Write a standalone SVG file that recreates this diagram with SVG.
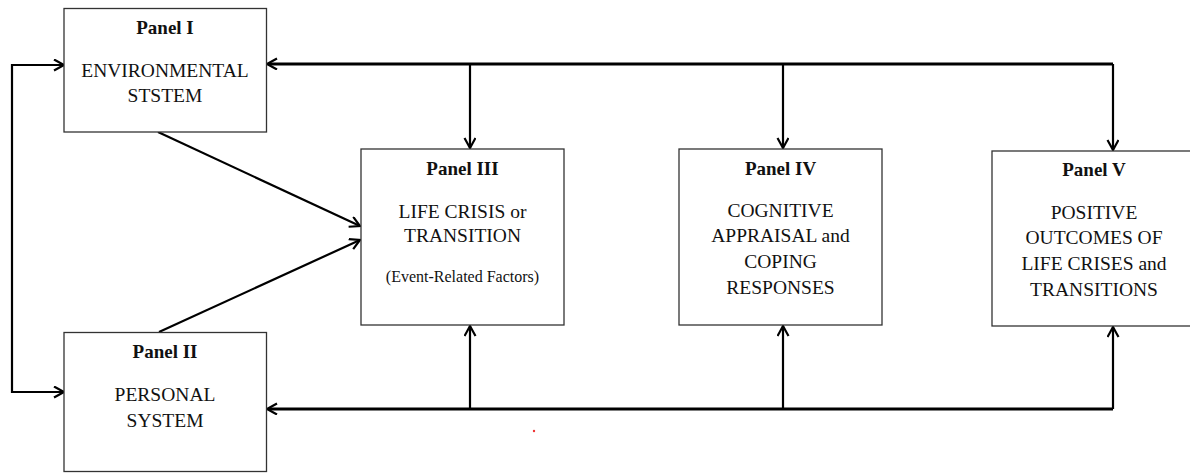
<svg xmlns="http://www.w3.org/2000/svg" width="1190" height="473" viewBox="0 0 1190 473">
<style>
.box{fill:#fff;stroke:#333;stroke-width:1.3}
.t{font-family:"Liberation Serif","Times New Roman",serif;font-size:19.5px;fill:#111;text-anchor:middle}
.b{font-weight:bold;font-size:19px}
.s{font-size:16px}
.c{fill:none;stroke:#000;stroke-width:2.2;marker-end:url(#ah)}
.h{fill:none;stroke:#000;stroke-width:3}
</style>
<defs>
<marker id="ah" markerUnits="userSpaceOnUse" markerWidth="14" markerHeight="14" refX="11" refY="6" orient="auto-start-reverse">
<path d="M1,0.5 L11,6 L1,11.5" fill="none" stroke="#000" stroke-width="2.2"/>
</marker>
</defs>
<rect width="1190" height="473" fill="#fff"/>
<g id="connectors">
<path class="c" d="M64,65 H12 V392 H64" style="marker-start:url(#ah)"/>
<path class="h" d="M1113,64 H270"/>
<path class="c" d="M300,64 H267"/>
<path class="c" d="M470,64 V148"/>
<path class="c" d="M783,64 V148"/>
<path class="c" d="M1113,64 V150"/>
<path class="h" d="M1113,409 H270"/>
<path class="c" d="M300,409 H267"/>
<path class="c" d="M470,409 V326"/>
<path class="c" d="M783,409 V326"/>
<path class="c" d="M1113,409 V327"/>
<path class="c" d="M158,132 L360,226"/>
<path class="c" d="M159,332 L360,240"/>
</g>
<g id="panel1">
<rect class="box" x="64" y="8.5" width="202.5" height="123.5"/>
<text class="t b" x="165" y="34">Panel I</text>
<text class="t" x="165" y="76.5">ENVIRONMENTAL</text>
<text class="t" x="165" y="101.5">STSTEM</text>
</g>
<g id="panel2">
<rect class="box" x="64" y="332.5" width="202.5" height="139"/>
<text class="t b" x="165" y="357.5">Panel II</text>
<text class="t" x="165" y="400.5">PERSONAL</text>
<text class="t" x="165" y="426.5">SYSTEM</text>
</g>
<g id="panel3">
<rect class="box" x="361" y="149" width="203" height="176"/>
<text class="t b" x="462.5" y="175">Panel III</text>
<text class="t" x="462.5" y="217.5">LIFE CRISIS or</text>
<text class="t" x="462.5" y="241.5">TRANSITION</text>
<text class="t s" x="462.5" y="281.5">(Event-Related Factors)</text>
</g>
<g id="panel4">
<rect class="box" x="679" y="149" width="203" height="176"/>
<text class="t b" x="780.5" y="175">Panel IV</text>
<text class="t" x="780.5" y="217">COGNITIVE</text>
<text class="t" x="780.5" y="242">APPRAISAL and</text>
<text class="t" x="780.5" y="268">COPING</text>
<text class="t" x="780.5" y="294">RESPONSES</text>
</g>
<g id="panel5">
<rect class="box" x="992" y="151" width="204" height="175"/>
<text class="t b" x="1094" y="176">Panel V</text>
<text class="t" x="1094" y="218.5">POSITIVE</text>
<text class="t" x="1094" y="244">OUTCOMES OF</text>
<text class="t" x="1094" y="269.5">LIFE CRISES and</text>
<text class="t" x="1094" y="295.5">TRANSITIONS</text>
</g>
<circle cx="534" cy="431" r="1.2" fill="#e33"/>
</svg>
